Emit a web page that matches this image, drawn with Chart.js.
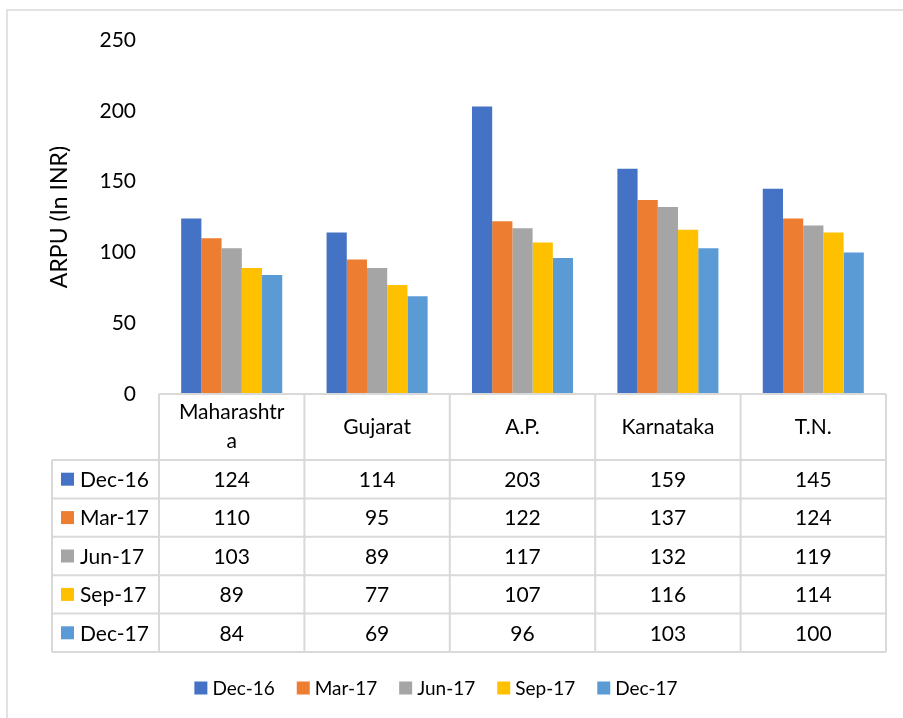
<!DOCTYPE html>
<html>
<head>
<meta charset="utf-8">
<script src="https://cdn.jsdelivr.net/npm/chart.js@4/dist/chart.umd.min.js"></script>
<style>
  html, body { margin: 0; padding: 0; background: #fff; }
  #wrap { width: 903px; height: 718px; }
</style>
</head>
<body>
<div id="wrap"><canvas id="chart" width="903" height="718"></canvas></div>
<script>
// chart data
var categories = ['Maharashtra', 'Gujarat', 'A.P.', 'Karnataka', 'T.N.'];
var seriesNames = ['Dec-16', 'Mar-17', 'Jun-17', 'Sep-17', 'Dec-17'];
var dec16 = [124, 114, 203, 159, 145];
var mar17 = [110, 95, 122, 137, 124];
var jun17 = [103, 89, 117, 132, 119];
var sep17 = [89, 77, 107, 116, 114];
var dec17 = [84, 69, 96, 103, 100];
var yTicks = [0, 50, 100, 150, 200, 250];
var colors = ['#4472C4', '#ED7D31', '#A5A5A5', '#FFC000', '#5B9BD5'];

var FONT = 'Lato, "Open Sans", sans-serif';
var lineColor = '#d9d9d9';

// wrap a label by characters to fit a width
function wrapChars(ctx, text, maxW) {
    var lines = [];
    var cur = '';
    for (var i = 0; i < text.length; i++) {
        var t = cur + text[i];
        if (cur && ctx.measureText(t).width > maxW) {
            lines.push(cur);
            cur = text[i];
        } else {
            cur = t;
        }
    }
    if (cur) lines.push(cur);
    return lines;
}

// draws frame, data table under the plot and the legend
var tablePlugin = {
    id: 'dataTable',
    afterDraw: function(chart) {
        var ctx = chart.ctx;
        var area = chart.chartArea;
        var xs = chart.scales.x;
        var n = chart.data.labels.length;
        var colW = (area.right - area.left) / n;
        var sets = chart.data.datasets;

        var headTop = area.bottom;
        var headBottom = headTop + 66;
        var rowH = 38.4;
        var tableLeft = 52;
        var tableBottom = headBottom + rowH * sets.length;

        ctx.save();
        // outer frame (top and left only visible)
        ctx.strokeStyle = lineColor;
        ctx.lineWidth = 1.5;
        ctx.beginPath();
        ctx.moveTo(7, 740);
        ctx.lineTo(7, 10);
        ctx.lineTo(910, 10);
        ctx.stroke();

        // grid lines of the table
        ctx.lineWidth = 2;
        ctx.beginPath();
        ctx.moveTo(area.left, headTop);
        ctx.lineTo(area.right, headTop);
        for (var r = 0; r <= sets.length; r++) {
            var yy = headBottom + r * rowH;
            ctx.moveTo(tableLeft, yy);
            ctx.lineTo(area.right, yy);
        }
        ctx.moveTo(tableLeft, headBottom);
        ctx.lineTo(tableLeft, tableBottom);
        for (var c = 0; c <= n; c++) {
            var xx = area.left + c * colW;
            ctx.moveTo(xx, headTop);
            ctx.lineTo(xx, tableBottom);
        }
        ctx.stroke();

        // header labels
        ctx.fillStyle = '#000';
        ctx.font = '21px ' + FONT;
        ctx.textAlign = 'center';
        ctx.textBaseline = 'middle';
        var headMid = (headTop + headBottom) / 2;
        chart.data.labels.forEach(function(lab, i) {
            var cx = xs.getPixelForValue(i);
            var lines = wrapChars(ctx, lab, colW - 36);
            var lh = 29;
            var y0 = headMid - (lines.length - 1) * lh / 2;
            lines.forEach(function(ln, k) {
                ctx.fillText(ln, cx, y0 + k * lh);
            });
        });

        // value rows
        sets.forEach(function(ds, r) {
            var cy = headBottom + r * rowH + rowH / 2;
            ctx.fillStyle = ds.backgroundColor;
            ctx.fillRect(61, cy - 6.5, 13, 13);
            ctx.fillStyle = '#000';
            ctx.textAlign = 'left';
            ctx.fillText(ds.label, 80, cy + 1);
            ctx.textAlign = 'center';
            ds.data.forEach(function(v, i) {
                ctx.fillText(String(v), xs.getPixelForValue(i), cy + 1);
            });
        });

        // legend
        ctx.font = '19px ' + FONT;
        var legY = 688;
        var box = 13, gapText = 5, gapItem = 22;
        var widths = sets.map(function(ds) { return box + gapText + ctx.measureText(ds.label).width; });
        var total = widths.reduce(function(a, b) { return a + b; }, 0) + gapItem * (sets.length - 1);
        var lx = 436 - total / 2;
        ctx.textAlign = 'left';
        sets.forEach(function(ds, i) {
            ctx.fillStyle = ds.backgroundColor;
            ctx.fillRect(lx, legY - 6.5, box, box);
            ctx.fillStyle = '#000';
            ctx.fillText(ds.label, lx + box + gapText, legY + 1);
            lx += widths[i] + gapItem;
        });
        ctx.restore();
    }
};

var seriesData = [dec16, mar17, jun17, sep17, dec17];
var ctx = document.getElementById('chart').getContext('2d');
var chart = new Chart(ctx, {
    type: 'bar',
    data: {
        labels: categories,
        datasets: seriesNames.map(function(name, i) {
            return {
                label: name,
                data: seriesData[i],
                backgroundColor: colors[i],
                borderWidth: 0,
                categoryPercentage: 0.695,
                barPercentage: 1.0
            };
        })
    },
    options: {
        responsive: false,
        animation: false,
        layout: {
            padding: { top: 40, right: 17, bottom: 0, left: 0 }
        },
        plugins: {
            legend: { display: false },
            tooltip: { enabled: false }
        },
        scales: {
            x: {
                grid: { display: false },
                border: { display: false },
                ticks: { display: false },
                afterFit: function(scale) { scale.height = 324; }
            },
            y: {
                min: 0,
                max: 250,
                afterBuildTicks: function(scale) {
                    scale.ticks = yTicks.map(function(v) { return { value: v }; });
                },
                grid: { display: false, drawTicks: false },
                border: { display: false },
                ticks: {
                    padding: 23,
                    color: '#000',
                    font: { family: FONT, size: 21 }
                },
                title: {
                    display: true,
                    text: 'ARPU (In INR)',
                    color: '#000',
                    font: { family: FONT, size: 23 },
                    padding: { top: 46, bottom: 0 }
                },
                afterFit: function(scale) { scale.width = 159; }
            }
        }
    },
    plugins: [tablePlugin]
});
</script>
</body>
</html>
